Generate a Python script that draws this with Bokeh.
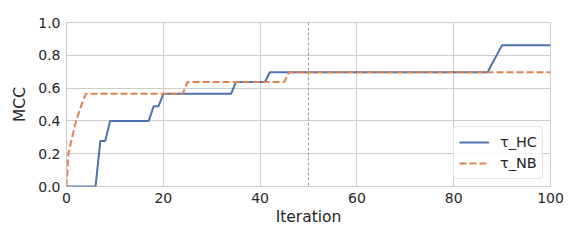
from bokeh.plotting import figure
from bokeh.models import Legend, LegendItem, Span, Range1d, FixedTicker, NumeralTickFormatter
from bokeh.embed import file_html
from bokeh.resources import INLINE

# Data
x_hc = [0, 6, 7, 8, 9, 17, 18, 19, 20, 34, 35, 41, 42, 87, 90, 100]
y_hc = [0.0, 0.0, 0.278, 0.278, 0.40, 0.40, 0.489, 0.489, 0.565, 0.565, 0.637, 0.637, 0.697, 0.697, 0.862, 0.862]

x_nb = [0, 0.4, 1, 2, 3, 4, 24, 25, 45, 46, 100]
y_nb = [0.0, 0.2, 0.28, 0.40, 0.49, 0.565, 0.565, 0.637, 0.637, 0.697, 0.697]

x_ticks = [0, 20, 40, 60, 80, 100]
y_ticks = [0.0, 0.2, 0.4, 0.6, 0.8, 1.0]
vline_x = 50
labels = ["τ_HC", "τ_NB"]

TXT = "#262626"
FONT = "DejaVu Sans"

p = figure(width=573, height=234, output_backend="svg", toolbar_location=None,
           x_range=Range1d(0, 100), y_range=Range1d(0, 1),
           min_border_left=66, min_border_right=23, min_border_top=22, min_border_bottom=48)
p.background_fill_color = "white"
p.border_fill_color = "white"
p.outline_line_color = "#cccccc"
p.outline_line_width = 1

for ax in (p.xaxis[0], p.yaxis[0]):
    ax.axis_line_color = None
    ax.major_tick_line_color = None
    ax.minor_tick_line_color = None
    ax.major_tick_out = 0
    ax.major_tick_in = 0
    ax.major_label_text_font = FONT
    ax.major_label_text_font_size = "14px"
    ax.major_label_text_color = TXT
    ax.axis_label_text_font = FONT
    ax.axis_label_text_font_size = "15.5px"
    ax.axis_label_text_font_style = "normal"
    ax.axis_label_text_color = TXT

p.xaxis.ticker = FixedTicker(ticks=x_ticks)
p.yaxis.ticker = FixedTicker(ticks=y_ticks)
p.yaxis.formatter = NumeralTickFormatter(format="0.0")
p.xaxis.major_label_standoff = 6
p.yaxis.major_label_standoff = 6
p.xaxis.axis_label = "Iteration"
p.yaxis.axis_label = "MCC"
p.xaxis.axis_label_standoff = 2
p.yaxis.axis_label_standoff = 6

p.xgrid.grid_line_color = "#cccccc"
p.ygrid.grid_line_color = "#cccccc"
p.xgrid.grid_line_width = 1
p.ygrid.grid_line_width = 1

vl = Span(location=vline_x, dimension="height", line_color="#999999",
          line_dash="3 2", line_width=1)
p.add_layout(vl)

r1 = p.line(x_hc, y_hc, line_color="#4c72b0", line_width=2)
r2 = p.line(x_nb, y_nb, line_color="#dd8452", line_width=2, line_dash="7 3")

legend = Legend(items=[LegendItem(label=labels[0], renderers=[r1]),
                       LegendItem(label=labels[1], renderers=[r2])],
                location="bottom_right")
legend.label_text_font = FONT
legend.label_text_font_size = "14.5px"
legend.label_text_color = TXT
legend.border_line_color = "#cccccc"
legend.border_line_width = 1
legend.border_radius = 4
legend.background_fill_alpha = 0.8
legend.glyph_width = 30
legend.glyph_height = 20
legend.label_height = 20
legend.spacing = 1
legend.padding = 5
legend.margin = 7
legend.label_standoff = 11
p.add_layout(legend)

open("out.html", "w").write(file_html(p, INLINE))
